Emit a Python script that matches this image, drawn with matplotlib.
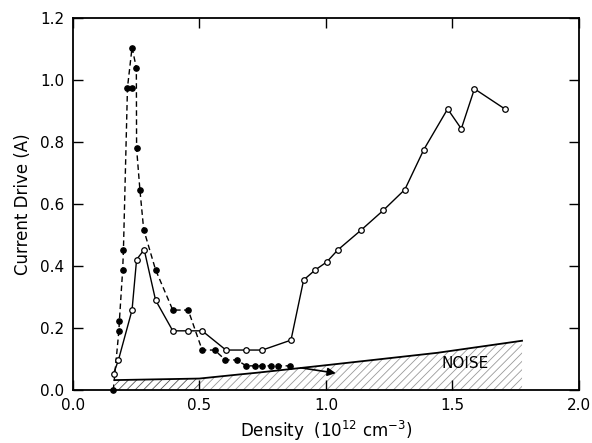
import matplotlib.pyplot as plt
import numpy as np

# filled-dot series (dashed)
dens_filled = [0.16, 0.182, 0.184, 0.197, 0.200, 0.216, 0.234, 0.251, 0.252, 0.265,
               0.280, 0.327, 0.395, 0.456, 0.511, 0.560, 0.603, 0.648, 0.685, 0.720,
               0.749, 0.782, 0.812, 0.860]
drive_filled = [0.0, 0.191, 0.223, 0.388, 0.452, 0.976, 1.105, 1.040, 0.780, 0.647,
                0.518, 0.388, 0.258, 0.258, 0.129, 0.129, 0.097, 0.097, 0.078, 0.078,
                0.078, 0.078, 0.078, 0.078]
# stray filled point next to the peak
dens_extra = [0.234]
drive_extra = [0.976]

# open-circle series (solid)
dens_open = [0.161, 0.180, 0.234, 0.252, 0.282, 0.327, 0.395, 0.455, 0.511, 0.605,
             0.685, 0.749, 0.862, 0.912, 0.957, 1.003, 1.047, 1.139, 1.227, 1.312,
             1.387, 1.481, 1.535, 1.587, 1.709]
drive_open = [0.053, 0.096, 0.258, 0.421, 0.453, 0.290, 0.191, 0.191, 0.191, 0.129,
              0.129, 0.129, 0.161, 0.355, 0.387, 0.413, 0.452, 0.516, 0.580, 0.647,
              0.776, 0.907, 0.843, 0.972, 0.906]

# noise floor
noise_x = [0.165, 0.50, 0.655, 0.73, 1.00, 1.44, 1.775]
noise_y = [0.032, 0.037, 0.050, 0.056, 0.080, 0.120, 0.159]

# arrow
arrow_start = (0.89, 0.073)
arrow_end = (1.05, 0.053)

plt.rcParams["font.family"] = ["DejaVu Sans"]
plt.rcParams["hatch.linewidth"] = 0.6

fig = plt.figure(figsize=(5.92, 4.43), dpi=100)
ax = fig.add_axes([0.123, 0.1196, 0.855, 0.8394])

nx = np.array(noise_x)
ny = np.array(noise_y)
left = nx <= 0.5
ax.fill_between(nx[left], 0, ny[left], facecolor="none", edgecolor="#555555",
                hatch="////", linewidth=0)
ax.fill_between(nx[nx >= 0.5], 0, ny[nx >= 0.5], facecolor="none", edgecolor="#999999",
                hatch="////", linewidth=0)
ax.plot(noise_x, noise_y, color="black", lw=1.3)
ax.text(1.55, 0.084, "NOISE", ha="center", va="center", fontsize=11)

ax.plot(dens_filled, drive_filled, color="black", ls=(0, (4, 2.5)), lw=1.0,
        marker="o", ms=3.8, mfc="black", mec="black", clip_on=False)
ax.plot(dens_extra, drive_extra, ls="none", marker="o", ms=3.8, color="black")
ax.plot(dens_open, drive_open, color="black", ls="-", lw=1.0,
        marker="o", ms=4.0, mfc="white", mec="black", mew=0.9)

ax.annotate("", xy=arrow_end, xytext=arrow_start,
            arrowprops=dict(arrowstyle="-|>", color="black", lw=1.2, mutation_scale=12))

ax.set_xlim(0, 2.0)
ax.set_ylim(0, 1.2)
ax.set_xticks([0.0, 0.5, 1.0, 1.5, 2.0])
ax.set_yticks([0.0, 0.2, 0.4, 0.6, 0.8, 1.0, 1.2])
ax.set_xticklabels(["0.0", "0.5", "1.0", "1.5", "2.0"])
ax.set_yticklabels(["0.0", "0.2", "0.4", "0.6", "0.8", "1.0", "1.2"])
ax.tick_params(direction="in", top=True, right=True, length=7, width=1.0,
               labelsize=11, pad=6)
for s in ax.spines.values():
    s.set_linewidth(1.3)

ax.set_xlabel("Density  (10$^{12}$ cm$^{-3}$)", fontsize=12, labelpad=4)
ax.set_ylabel("Current Drive (A)", fontsize=12, labelpad=6)

fig.savefig("out.png", dpi=100)
